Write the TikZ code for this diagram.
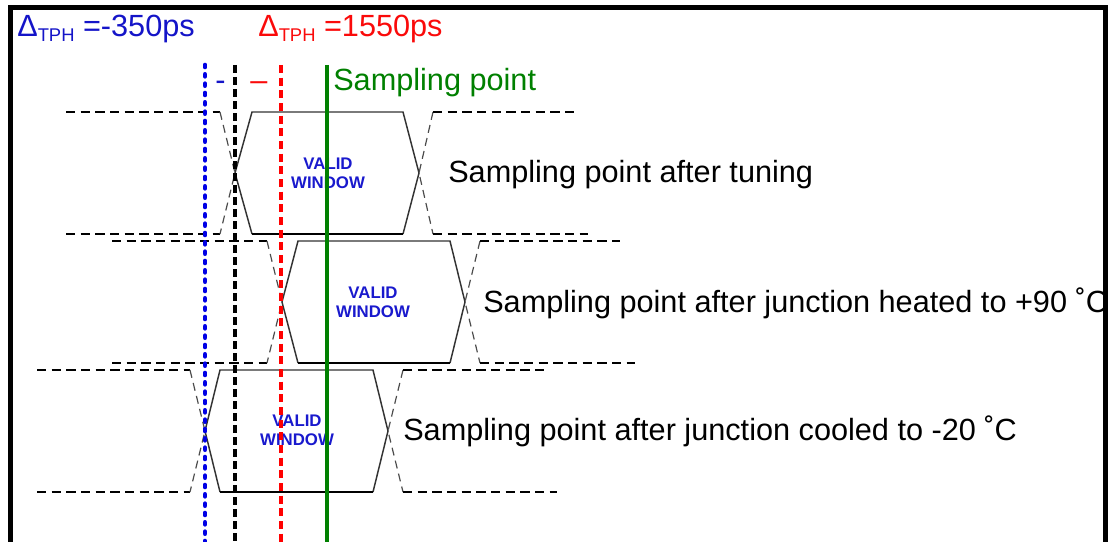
\documentclass[tikz,border=0pt]{standalone}
\usepackage{fontspec}
\setmainfont{Liberation Sans}
\usetikzlibrary{positioning}
\definecolor{tphblue}{RGB}{20,20,200}
\definecolor{tphred}{RGB}{250,10,10}
\definecolor{sampgreen}{RGB}{0,128,0}
\definecolor{validblue}{RGB}{25,25,205}
\newcommand{\subTPH}{\raisebox{-3.4pt}{\fontsize{13.8}{14}\selectfont TPH}}

\begin{document}
\begin{tikzpicture}[
  x=0.75pt, y=-0.75pt,
  note/.style = {font=\fontsize{23}{27}\selectfont, inner sep=0pt, anchor=base west},
  window/.style = {font=\fontsize{12.6}{14.25}\selectfont\bfseries, text=validblue, align=center, inner sep=0pt},
  rail/.style = {line width=1.9pt, dash pattern=on 7pt off 4pt},
  xdash/.style = {black!70, line width=0.9pt, dash pattern=on 6pt off 4pt},
  eyeline/.style = {black!80, line width=1.1pt},
  eyefloor/.style = {line width=1.9pt},
  bluemark/.style = {blue!90!black, line width=3.5pt, line cap=round, dash pattern=on 1.5pt off 5.5pt},
  blackmark/.style = {line width=3.3pt, dash pattern=on 6pt off 3pt},
  redmark/.style = {red, line width=3.3pt, dash pattern=on 6pt off 3.5pt},
  greenmark/.style = {sampgreen, line width=3.3pt},
  frame/.style = {line width=3.75pt}
]
  \useasboundingbox (0,0) rectangle (1109,542);

  % Delta labels
  \node[note, text=tphblue] (tphneg) at (17,37) {Δ\subTPH{} =-350ps};
  \node[note, text=tphred] (tphpos) at (258,37) {Δ\subTPH{} =1550ps};

  % Marker row
  \node[note, text=tphblue] (negmark) at (215,90) {-};
  \node[note, text=tphred] (posmark) at (250,90) {–};
  \node[note, text=sampgreen] (samp) at (333,90) {Sampling point};

  % Eye after tuning
  \coordinate (cl1) at (235,173);
  \coordinate (cr1) at (419,173);
  \draw[rail] (66,112) -- (220,112) (66,234) -- (220,234);
  \draw[xdash] (220,112) -- (cl1) -- (220,234);
  \draw[eyeline] (252,234) -- (cl1) -- (252,112) -- (403,112) -- (cr1) -- (403,234);
  \draw[eyefloor] (252,234) -- (403,234);
  \draw[xdash] (433,112) -- (cr1) -- (433,234);
  \draw[rail] (433,112) -- (575,112) (433,234) -- (588,234);
  \node[window] (win1) at (328,173) {VALID\\WINDOW};
  \node[note] (tuned) at (448,182) {Sampling point after tuning};

  % Eye heated
  \coordinate (cl2) at (282,302);
  \coordinate (cr2) at (465,302);
  \draw[rail] (112,241) -- (267,241) (112,363) -- (267,363);
  \draw[xdash] (267,241) -- (cl2) -- (267,363);
  \draw[eyeline] (298,363) -- (cl2) -- (298,241) -- (450,241) -- (cr2) -- (450,363);
  \draw[eyefloor] (298,363) -- (450,363);
  \draw[xdash] (480,241) -- (cr2) -- (480,363);
  \draw[rail] (480,241) -- (620,241) (480,363) -- (635,363);
  \node[window] (win2) at (373,302) {VALID\\WINDOW};
  \node[note] (heated) at (483,312) {Sampling point after junction heated to +90 ˚C};

  % Eye cooled
  \coordinate (cl3) at (205,431);
  \coordinate (cr3) at (388,431);
  \draw[rail] (37,370) -- (190,370) (37,492) -- (190,492);
  \draw[xdash] (190,370) -- (cl3) -- (190,492);
  \draw[eyeline] (220,492) -- (cl3) -- (220,370) -- (373,370) -- (cr3) -- (373,492);
  \draw[eyefloor] (220,492) -- (373,492);
  \draw[xdash] (403,370) -- (cr3) -- (403,492);
  \draw[rail] (403,370) -- (545,370) (403,492) -- (557,492);
  \node[window] (win3) at (297,430) {VALID\\WINDOW};
  \node[note] (cooled) at (403,440) {Sampling point after junction cooled to -20 ˚C};

  % Sampling positions
  \draw[bluemark] (205,65) -- (205,542);
  \draw[blackmark] (235,65) -- (235,542);
  \draw[redmark] (281,65) -- (281,542);
  \draw[greenmark] (327,65) -- (327,542);

  % Frame
  \draw[frame] (10.5,545) -- (10.5,7.5) -- (1105.5,7.5) -- (1105.5,545);

\end{tikzpicture}
\end{document}
